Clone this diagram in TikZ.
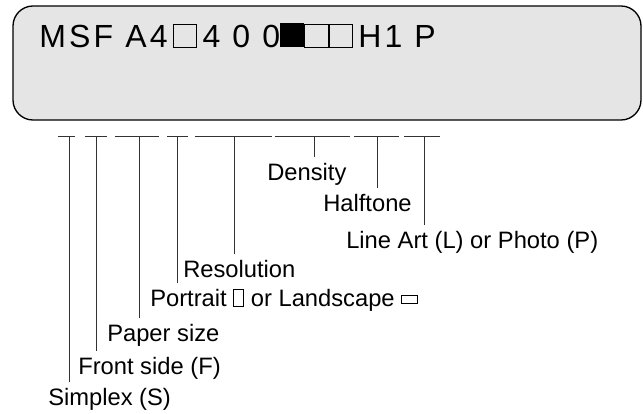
\documentclass[tikz,border=0pt]{standalone}
\usepackage{fontspec}
\setmainfont{Liberation Sans}
\usetikzlibrary{positioning,calc}

\newcommand{\emptysq}{{\setlength{\fboxsep}{0pt}\setlength{\fboxrule}{0.8pt}\fbox{\rule{0pt}{16.6pt}\rule{16.6pt}{0pt}}}}
\newcommand{\fullsq}{\rule{18.2pt}{18.2pt}}
\newcommand{\tallbox}{{\setlength{\fboxsep}{0pt}\setlength{\fboxrule}{0.6pt}\fbox{\rule{0pt}{12.3pt}\rule{7pt}{0pt}}}}
\newcommand{\widebox}{\raisebox{2pt}{\setlength{\fboxsep}{0pt}\setlength{\fboxrule}{0.6pt}\fbox{\rule{0pt}{5.6pt}\rule{11pt}{0pt}}}}

\begin{document}
\begin{tikzpicture}[x=0.75pt,y=-0.75pt,
  lbl/.style={anchor=base west,inner xsep=0pt,inner ysep=4pt,font=\fontsize{17.8}{20}\selectfont},
  seg/.style={line width=0.7pt,black!80}]
\useasboundingbox (0,0) rectangle (643,414);
\draw[line width=1pt,fill=black!10,rounded corners=15pt] (13,6) rectangle (641,120);
\node[anchor=base west,inner sep=0pt,font=\fontsize{24}{28}\selectfont\addfontfeatures{LetterSpace=10}] (code) at (39,47)
  {MSF A4\,\emptysq\,4 0 0\fullsq\emptysq\emptysq\,H1 P};

% field marks under the display
\foreach \a/\b/\t/\n in {58/75/69/1,85/107/96/2,115/159/139/3,167/188/177/4,
                         195/272/234/5,275/350/314/6,354/399/377/7,404/440/424/8}{
  \coordinate (l\n) at (\a,136);
  \coordinate (r\n) at (\b,136);
  \coordinate (t\n) at (\t,136);
  \draw[seg] (l\n) -- (r\n);
}

\node[lbl] (simplex) at (48,405) {Simplex (S)};
\node[lbl] (front) at (78,374) {Front side (F)};
\node[lbl] (paper) at (107,341) {Paper size};
\node[lbl] (orient) at (150,306) {Portrait \tallbox{} or Landscape \widebox};
\node[lbl] (resol) at (183,277) {Resolution};
\node[lbl] (density) at (267,180) {Density};
\node[lbl] (halftone) at (323,211) {Halftone};
\node[lbl] (mode) at (346,248) {Line Art (L) or Photo (P)};

\draw[seg] (t1) -- (t1 |- simplex.north);
\draw[seg] (t2) -- (t2 |- front.north);
\draw[seg] (t3) -- (t3 |- paper.north);
\draw[seg] (t4) -- (t4 |- orient.north);
\draw[seg] (t5) -- (t5 |- resol.north);
\draw[seg] (t6) -- (t6 |- density.north);
\draw[seg] (t7) -- (t7 |- halftone.north);
\draw[seg] (t8) -- (t8 |- mode.north);
\end{tikzpicture}
\end{document}
